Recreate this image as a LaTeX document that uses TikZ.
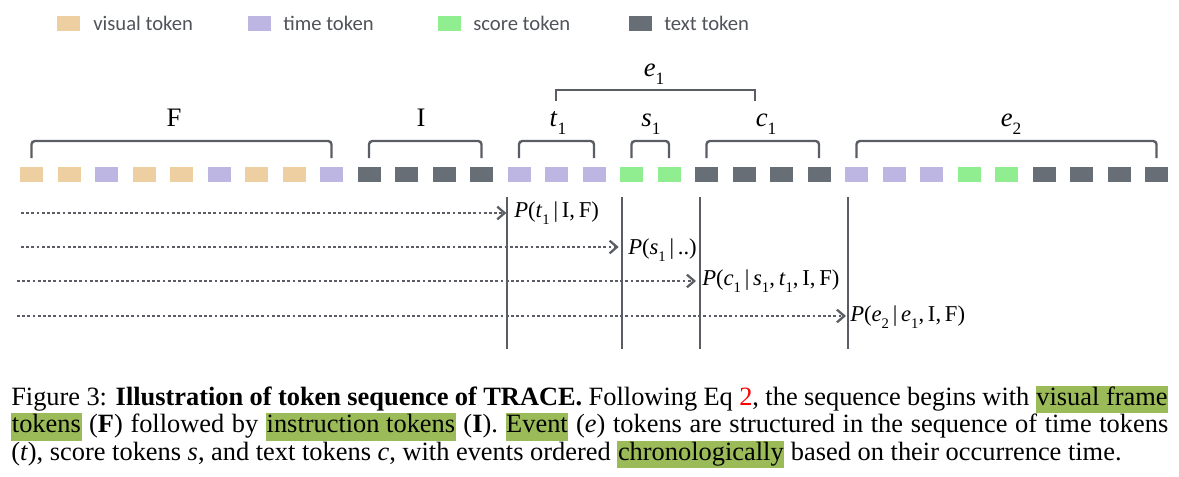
\documentclass[tikz,border=0pt]{standalone}
\usepackage{fontspec}
\setmainfont{Liberation Serif}
\newfontfamily\legfont{Carlito}
\usetikzlibrary{arrows.meta,calc}
\definecolor{cvis}{HTML}{EECFA1}
\definecolor{ctime}{HTML}{BDB6E3}
\definecolor{cscore}{HTML}{90EE90}
\definecolor{ctext}{HTML}{676E75}
\definecolor{cline}{HTML}{5A5E64}
\definecolor{clegtxt}{HTML}{50545A}
\definecolor{chl}{HTML}{9BBB59}
\definecolor{cred}{HTML}{FF0000}
\newcommand{\hlt}[1]{{\setlength{\fboxsep}{0pt}\colorbox{chl}{\strut\hspace{0.5pt}#1\hspace{0.5pt}}}}
\newcommand{\subA}[1]{\raisebox{-0.3em}{\fontsize{13}{13}\selectfont #1}}
\newcommand{\subB}[1]{\raisebox{-0.3em}{\fontsize{11}{11}\selectfont #1}}
\begin{document}
\begin{tikzpicture}[x=0.75pt,y=-0.75pt,
  tok/.style={minimum width=17.25pt,minimum height=11.25pt,inner sep=0pt,outer sep=0pt},
  legtxt/.style={anchor=west,inner sep=0pt,text=clegtxt,font=\legfont\fontsize{15.5}{18}\selectfont},
  brk/.style={draw=cline,line width=1.8pt,rounded corners=2.5pt},
  ebrk/.style={draw=cline,line width=1.3pt},
  blab/.style={anchor=base,inner sep=0pt,font=\fontsize{20}{24}\selectfont},
  vline/.style={draw=cline,line width=1.5pt},
  darr/.style={draw=cline,line width=2.1pt,dash pattern=on 2.1pt off 1.8pt,
    -{Straight Barb[length=5.5pt,width=9.5pt,line width=1.7pt]}},
  plab/.style={anchor=west,inner sep=0pt,font=\fontsize{17}{20}\selectfont}]
\useasboundingbox (0,0) rectangle (1179,476);

% legend
\node[tok,fill=cvis] (lg1) at (68.5,23) {};
\node[legtxt] (lt1) at (93,23.5) {visual token};
\node[tok,fill=ctime] (lg2) at (259.5,23) {};
\node[legtxt] (lt2) at (283,23.5) {time token};
\node[tok,fill=cscore] (lg3) at (449.5,23) {};
\node[legtxt] (lt3) at (473,23.5) {score token};
\node[tok,fill=ctext] (lg4) at (640.5,23) {};
\node[legtxt] (lt4) at (664,23.5) {text token};

% tokens
\foreach \c [count=\i] in {cvis,cvis,ctime,cvis,cvis,ctime,cvis,cvis,ctime,
  ctext,ctext,ctext,ctext, ctime,ctime,ctime, cscore,cscore, ctext,ctext,ctext,ctext,
  ctime,ctime,ctime,cscore,cscore,ctext,ctext,ctext,ctext}
  \node[tok,fill=\c] (tok\i) at ({31.5+37.5*(\i-1)},174.5) {};

% brackets
\draw[brk] ([yshift=6.75pt]tok1.north) -- ++(0,-17) -| ([yshift=6.75pt]tok9.north);
\draw[brk] ([yshift=6.75pt]tok10.north) -- ++(0,-17) -| ([yshift=6.75pt]tok13.north);
\draw[brk] ([yshift=6.75pt]tok14.north) -- ++(0,-17) -| ([yshift=6.75pt]tok16.north);
\draw[brk] ([yshift=6.75pt]tok17.north) -- ++(0,-17) -| ([yshift=6.75pt]tok18.north);
\draw[brk] ([yshift=6.75pt]tok19.north) -- ++(0,-17) -| ([yshift=6.75pt]tok22.north);
\draw[brk] ([yshift=6.75pt]tok23.north) -- ++(0,-17) -| ([yshift=6.75pt]tok31.north);

% bracket labels
\node[blab] (lF) at (174,126) {F};
\node[blab] (lI) at (421,126) {I};
\node[blab] (lt) at (558,126) {\textit{t}\subA{1}};
\node[blab] (ls) at (651,126) {\textit{s}\subA{1}};
\node[blab] (lc) at (766,126) {\textit{c}\subA{1}};
\node[blab] (le2) at (1011,126) {\textit{e}\subA{2}};
\node[blab] (le1) at (654,76) {\textit{e}\subA{1}};

% e1 bracket
\coordinate (eb1) at (556,101);
\coordinate (eb2) at (755,101);
\draw[ebrk] (eb1) -- ++(0,-11) -| (eb2);

% vertical lines
\coordinate (v1t) at (507,197); \coordinate (v1b) at (507,349);
\coordinate (v2t) at (622,197); \coordinate (v2b) at (622,349);
\coordinate (v3t) at (700,197); \coordinate (v3b) at (700,349);
\coordinate (v4t) at (848,197); \coordinate (v4b) at (848,349);
\draw[vline] (v1t) -- (v1b);
\draw[vline] (v2t) -- (v2b);
\draw[vline] (v3t) -- (v3b);
\draw[vline] (v4t) -- (v4b);

% dotted arrows
\coordinate (a1) at (21,213);
\coordinate (a2) at (21,247);
\coordinate (a3) at (17,281);
\coordinate (a4) at (17,316);
\draw[darr,shorten >=0.5pt] (a1) -- (a1 -| v1t);
\draw[darr,shorten >=2.5pt] (a2) -- (a2 -| v2t);
\draw[darr,shorten >=3pt] (a3) -- (a3 -| v3t);
\draw[darr,shorten >=1.5pt] (a4) -- (a4 -| v4t);

% probability labels
\node[plab] (p1) at ($(a1 -| v1t)+(7,0)$) {\textit{P}(\textit{t}\subB{1}\,|\,I,\,F)};
\node[plab] (p2) at ($(a2 -| v2t)+(6,3)$) {\textit{P}(\textit{s}\subB{1}\,|\,..)};
\node[plab] (p3) at ($(a3 -| v3t)+(2,0)$) {\textit{P}(\textit{c}\subB{1}\,|\,\textit{s}\subB{1},\,\textit{t}\subB{1},\,I,\,F)};
\node[plab] (p4) at ($(a4 -| v4t)+(2,1)$) {\textit{P}(\textit{e}\subB{2}\,|\,\textit{e}\subB{1},\,I,\,F)};

% caption
\node[anchor=base west,text width=867.75pt,align=justify,inner sep=0pt,
  font=\fontsize{19.8}{20.7}\selectfont] (cap) at (11,405)
 {Figure 3: \textbf{Illustration of token sequence of TRACE.} Following Eq {\color{cred}2}, the sequence begins with \hlt{visual frame}\linebreak
 \hlt{tokens} (\textbf{F}) followed by \hlt{instruction tokens} (\textbf{I}). \hlt{Event} (\textit{e}) tokens are structured in the sequence of time tokens\linebreak
 (\textit{t}), score tokens \textit{s}, and text tokens \textit{c}, with events ordered \hlt{chronologically} based on their occurrence time.};
\end{tikzpicture}
\end{document}
